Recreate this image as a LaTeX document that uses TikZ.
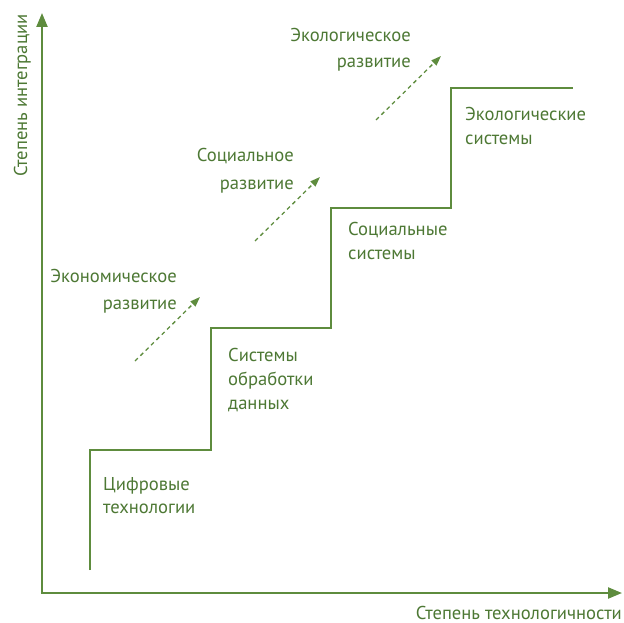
\documentclass[tikz,border=0pt]{standalone}
\usepackage{fontspec}
\setmainfont{PT Sans}
\usetikzlibrary{arrows.meta}
\definecolor{lineg}{RGB}{94,140,62}
\definecolor{textg}{RGB}{77,120,52}
\tikzset{
  axis/.style={draw=lineg, line width=2.2bp, -{Triangle[length=14bp,width=11bp]}},
  stair/.style={draw=lineg, line width=1.3bp},
  devarrow/.style={draw=lineg, line width=1.3bp, dash pattern=on 4bp off 3.5bp, -{Triangle[length=10bp,width=7bp]}},
  lbl/.style={text=textg, font=\fontsize{18.6bp}{22bp}\selectfont, inner sep=0pt},
}
\begin{document}
\begin{tikzpicture}[x=1bp,y=-1bp]
\useasboundingbox (0,0) rectangle (624,623);
% axes
\coordinate (O) at (42,593);
\coordinate (Ytop) at (42,13);
\coordinate (Xend) at (622,593);
\draw[axis] (O) -- (Ytop);
\draw[axis] ([xshift=-1.1bp]O) -- (Xend);
% staircase
\coordinate (s0) at (90,570);
\coordinate (s1) at (90,450);
\coordinate (s2) at (211,450);
\coordinate (s3) at (211,328);
\coordinate (s4) at (331,328);
\coordinate (s5) at (331,208);
\coordinate (s6) at (451,208);
\coordinate (s7) at (451,88);
\coordinate (s8) at (573,88);
\draw[stair] (s0) -- (s1) -- (s2) -- (s3) -- (s4) -- (s5) -- (s6) -- (s7) -- (s8);
% development arrows
\coordinate (d1a) at (135,361);
\coordinate (d1b) at (200,297);
\coordinate (d2a) at (255,241);
\coordinate (d2b) at (320,177);
\coordinate (d3a) at (376,120);
\coordinate (d3b) at (441,56);
\draw[devarrow] (d1a) -- (d1b);
\draw[devarrow] (d2a) -- (d2b);
\draw[devarrow] (d3a) -- (d3b);
% axis labels
\node[lbl, anchor=base east, text depth=0pt] (xl) at (622,619) {Степень технологичности};
\node[lbl, anchor=base west, rotate=90] (yl) at (27,177) {Степень интеграции};
% development labels
\node[lbl, anchor=base east] (e1) at (177,282) {Экономическое};
\node[lbl, anchor=base east] (e2) at (177,309) {развитие};
\node[lbl, anchor=base east] (c1) at (294,162) {Социальное};
\node[lbl, anchor=base east] (c2) at (294,189) {развитие};
\node[lbl, anchor=base east] (g1) at (411,42) {Экологическое};
\node[lbl, anchor=base east] (g2) at (411,68) {развитие};
% step labels
\node[lbl, anchor=base west] (t1) at (103,490) {Цифровые};
\node[lbl, anchor=base west] (t2) at (103,513) {технологии};
\node[lbl, anchor=base west] (p1) at (228,361) {Системы};
\node[lbl, anchor=base west] (p2) at (228,385) {обработки};
\node[lbl, anchor=base west] (p3) at (228,409) {данных};
\node[lbl, anchor=base west] (q1) at (348,235) {Социальные};
\node[lbl, anchor=base west] (q2) at (348,259) {системы};
\node[lbl, anchor=base west] (r1) at (465,121) {Экологические};
\node[lbl, anchor=base west] (r2) at (465,145) {системы};
\end{tikzpicture}
\end{document}
